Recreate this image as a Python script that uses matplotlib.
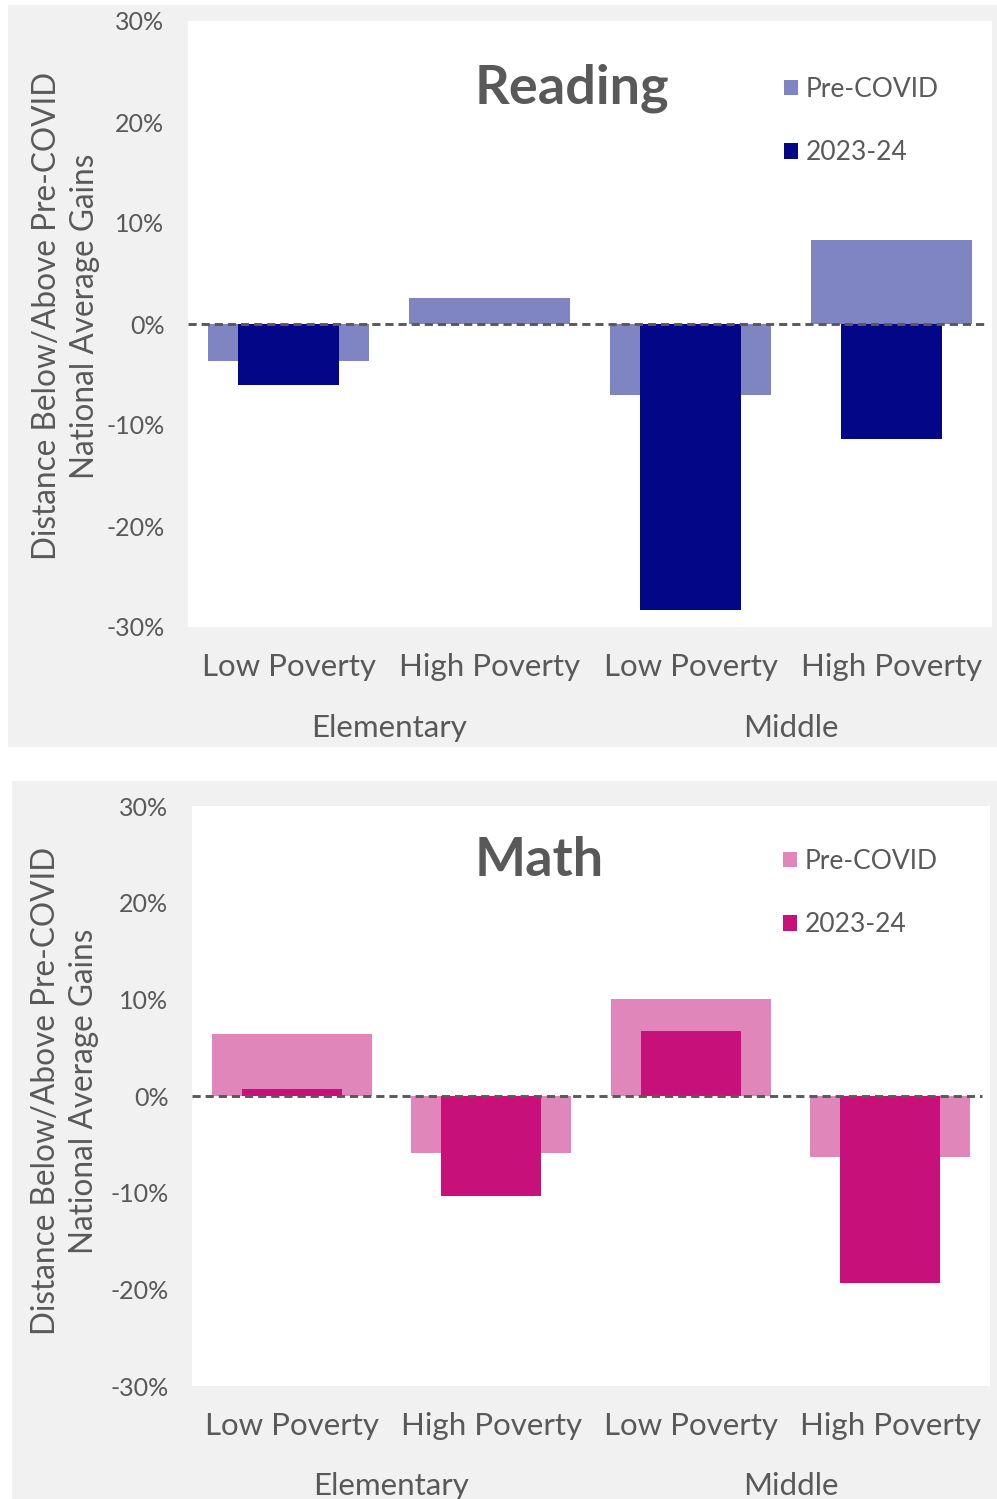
import matplotlib
matplotlib.use("Agg")
import matplotlib.pyplot as plt
from matplotlib.patches import Rectangle
from matplotlib.ticker import FuncFormatter

plt.rcParams["font.family"] = ["Lato", "DejaVu Sans"]

# ---- data -------------------------------------------------------------
categories = ["Low Poverty", "High Poverty", "Low Poverty", "High Poverty"]
groups = ["Elementary", "Middle"]
series_names = ["Pre-COVID", "2023-24"]

reading_pre = [-3.7, 2.6, -7.0, 8.3]
reading_now = [-6.0, 0.0, -28.3, -11.4]

math_pre = [6.4, -5.9, 10.0, -6.3]
math_now = [0.7, -10.3, 6.7, -19.3]

yticks = [-30, -20, -10, 0, 10, 20, 30]
ylabel = "Distance Below/Above Pre-COVID\nNational Average Gains"

TEXT = "#595959"
PANEL_BG = "#f1f1f1"

W, H = 997, 1499
fig = plt.figure(figsize=(W / 100, H / 100), dpi=100)
fig.patch.set_facecolor("white")


def fx(px):
    return px / W


def fy(py):
    return 1 - py / H


def panel(bg_box, ax_box, title, title_xy, pre, now, colors, ylab_xy,
          legend_xy, cat_y, grp_y):
    # grey card behind the chart
    x0, y0, x1, y1 = bg_box
    fig.add_artist(Rectangle((fx(x0), fy(y1)), fx(x1 - x0), (y1 - y0) / H,
                             transform=fig.transFigure, facecolor=PANEL_BG,
                             edgecolor="none", zorder=0))
    l, t, r, b = ax_box
    ax = fig.add_axes([fx(l), fy(b), fx(r - l), (b - t) / H])
    ax.set_facecolor("white")
    for s in ax.spines.values():
        s.set_visible(False)

    x = list(range(len(categories)))
    ax.bar(x, pre, width=0.8, color=colors[0], label=series_names[0], zorder=2)
    ax.bar(x, now, width=0.5, color=colors[1], label=series_names[1], zorder=3)
    ax.axhline(0, xmax=0.99, color=TEXT, lw=2.1, linestyle=(0, (2.8, 1.7)),
               zorder=4)

    ax.set_xlim(-0.5, len(categories) - 0.5)
    ax.set_ylim(-30, 30)
    ax.set_yticks(yticks)
    ax.yaxis.set_major_formatter(FuncFormatter(lambda v, p: f"{v:.0f}%"))
    ax.tick_params(axis="y", length=0, pad=17, labelsize=18, labelcolor=TEXT)
    ax.set_xticks([])

    # category labels under each bar pair, group labels under each pair of categories
    xt = ax.get_xaxis_transform()
    for xi, c in zip(x, categories):
        ax.text(xi, -(cat_y - b) / (b - t), c, transform=xt, ha="center",
                va="center", fontsize=22.5, color=TEXT)
    for gi, g in enumerate(groups):
        ax.text(2 * gi + 0.5, -(grp_y - b) / (b - t), g, transform=xt,
                ha="center", va="center", fontsize=22.5, color=TEXT)

    fig.text(fx(title_xy[0]), fy(title_xy[1]), title, ha="center",
             va="center", fontsize=39, fontweight="bold", color=TEXT)

    fig.text(fx(ylab_xy[0]), fy(ylab_xy[1]), ylabel, rotation=90, ha="center",
             va="center", fontsize=22.7, color=TEXT, linespacing=1.3,
             multialignment="center")

    leg = ax.legend(loc="upper left",
                    bbox_to_anchor=(fx(legend_xy[0]), fy(legend_xy[1])),
                    bbox_transform=fig.transFigure, frameon=False,
                    fontsize=19, handlelength=0.52, handleheight=0.52,
                    handletextpad=0.3, labelspacing=1.45, borderpad=0,
                    borderaxespad=0)
    for tx in leg.get_texts():
        tx.set_color(TEXT)
    return ax


panel(bg_box=(8, 5, 997, 747), ax_box=(188, 21, 992, 627), title="Reading",
      title_xy=(572, 88), pre=reading_pre, now=reading_now,
      colors=("#7f84c2", "#030687"), ylab_xy=(66, 316),
      legend_xy=(784, 77), cat_y=667, grp_y=728)

panel(bg_box=(12, 781, 997, 1499), ax_box=(192, 806, 990, 1386), title="Math",
      title_xy=(539, 860), pre=math_pre, now=math_now,
      colors=("#e086ba", "#c8107a"), ylab_xy=(65, 1091),
      legend_xy=(783, 849), cat_y=1426, grp_y=1486)

fig.savefig("out.png", dpi=100, facecolor="white")
